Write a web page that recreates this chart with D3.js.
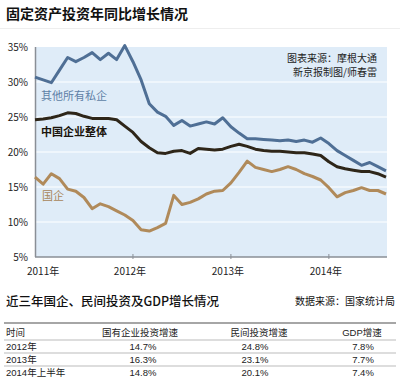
<!DOCTYPE html>
<html><head><meta charset="utf-8">
<script src="https://cdn.jsdelivr.net/npm/d3@7"></script>
<style>
html,body{margin:0;padding:0;background:#fff;}
svg{display:block;font-family:"Noto Sans CJK SC","Noto Sans",sans-serif;}
.tb{font-family:"Liberation Sans","Noto Sans CJK SC",sans-serif;}
</style></head>
<body><svg id="c" width="400" height="378"></svg>
<script>
// month index 0 = 2011-01
const yearTicks = [0, 12, 24, 36];
const yearLabels = ["2011年", "2012年", "2013年", "2014年"];
const yTicks = [5, 10, 15, 20, 25, 30, 35];

const privateVals = [30.7,30.3,29.9,31.7,33.5,32.9,33.5,34.2,33.2,34.1,33.2,35.2,
  32.9,30.3,26.9,25.7,25.1,23.8,24.5,23.7,24.0,24.3,24.0,24.9,
  23.6,22.7,21.9,21.9,21.8,21.7,21.6,21.7,21.5,21.7,21.4,22.0,
  21.2,20.2,19.5,18.8,18.1,18.5,17.9,17.3];
const overallVals = [24.6,24.7,24.9,25.2,25.6,25.5,25.1,24.8,24.8,24.8,24.6,23.7,
  22.8,21.5,20.6,19.9,19.8,20.1,20.2,19.8,20.5,20.4,20.3,20.4,
  20.8,21.1,20.8,20.4,20.2,20.1,20.1,20.0,19.9,19.9,19.7,19.5,
  18.6,17.9,17.6,17.4,17.2,17.2,16.9,16.4];
const soeVals = [16.4,15.4,16.9,16.2,14.7,14.4,13.5,11.9,12.6,12.2,11.6,11.0,
  10.2,8.9,8.7,9.2,9.8,13.8,12.5,12.8,13.3,14.0,14.4,14.5,
  15.6,17.1,18.7,17.8,17.5,17.2,17.5,17.9,17.5,16.9,16.5,16.0,
  14.9,13.6,14.2,14.5,14.9,14.5,14.5,14.0];

const seriesNames = ["其他所有私企", "中国企业整体", "国企"];

const tableHeader = ["时间", "国有企业投资增速", "民间投资增速", "GDP增速"];
const tableRows = ["2012年", "2013年", "2014年上半年"];
const soeGrowth = ["14.7%", "16.3%", "14.8%"];
const privateGrowth = ["24.8%", "23.1%", "20.1%"];
const gdpGrowth = ["7.8%", "7.7%", "7.4%"];

const svg = d3.select("#c");
const x = d3.scaleLinear().domain([0, 43]).range([35, 386]);
const y = d3.scaleLinear().domain([5, 35]).range([257, 47]);

// title
svg.append("text").attr("x", 6).attr("y", 19).attr("font-size", 14).attr("font-weight", 700)
  .attr("fill", "#111").text("固定资产投资年同比增长情况");
svg.append("line").attr("x1", 0).attr("x2", 400).attr("y1", 28.5).attr("y2", 28.5).attr("stroke", "#eee");

// background
svg.append("rect").attr("x", x(0)).attr("y", y(35)).attr("width", 387 - x(0)).attr("height", y(5) - y(35))
  .attr("fill", "#dfecf8");
// grid
svg.selectAll(".g").data(yTicks.filter(d => d > 5 && d < 35)).join("line")
  .attr("x1", x(0)).attr("x2", 387).attr("y1", d => y(d)).attr("y2", d => y(d))
  .attr("stroke", "#fff").attr("stroke-width", 1.2);
// axes
svg.append("line").attr("x1", x(0) + 0.5).attr("x2", x(0) + 0.5).attr("y1", y(35)).attr("y2", y(5))
  .attr("stroke", "#8a8f96").attr("stroke-width", 1.5);
svg.append("line").attr("x1", x(0)).attr("x2", 387).attr("y1", y(5)).attr("y2", y(5))
  .attr("stroke", "#8a8f96").attr("stroke-width", 1.5);
svg.selectAll(".xt").data(yearTicks.slice(1)).join("line")
  .attr("x1", d => x(d)).attr("x2", d => x(d)).attr("y1", y(5) - 3).attr("y2", y(5) + 2)
  .attr("stroke", "#8a8f96").attr("stroke-width", 1);
svg.selectAll(".yl").data(yTicks).join("text")
  .attr("x", 28).attr("y", d => y(d) + 4).attr("text-anchor", "end").attr("font-size", 10)
  .attr("fill", "#222").text(d => d + "%");
svg.selectAll(".xl").data(yearTicks).join("text")
  .attr("x", (d, i) => i === 0 ? 27 : x(d) - 3).attr("y", 275)
  .attr("text-anchor", (d, i) => i === 0 ? "start" : "middle").attr("font-size", 10)
  .attr("fill", "#222").text((d, i) => yearLabels[i]);

// lines
const line = d3.line().x((d, i) => x(i)).y(d => y(d)).curve(d3.curveLinear);
[[soeVals, "#b08a5a"], [overallVals, "#2e2619"], [privateVals, "#4f6f95"]].forEach(([v, c]) => {
  svg.append("path").attr("d", line(v)).attr("fill", "none").attr("stroke", c)
    .attr("stroke-width", 3).attr("stroke-linejoin", "round");
});

// series labels
svg.append("text").attr("x", 41).attr("y", 100).attr("font-size", 11).attr("fill", "#5d7fa6").text(seriesNames[0]);
svg.append("text").attr("x", 41).attr("y", 136).attr("font-size", 11).attr("font-weight", 700).attr("fill", "#1a140c").text(seriesNames[1]);
svg.append("text").attr("x", 42).attr("y", 200).attr("font-size", 11).attr("fill", "#a8865a").text(seriesNames[2]);

// source
svg.append("text").attr("x", 377).attr("y", 62).attr("text-anchor", "end").attr("font-size", 10).attr("fill", "#222").text("图表来源：摩根大通");
svg.append("text").attr("x", 377).attr("y", 76).attr("text-anchor", "end").attr("font-size", 10).attr("fill", "#222").text("新京报制图/师春雷");

// table section
svg.append("text").attr("x", 6).attr("y", 306).attr("font-size", 12.5).attr("font-weight", 500).attr("fill", "#111").text("近三年国企、民间投资及GDP增长情况");
svg.append("text").attr("x", 395).attr("y", 305).attr("text-anchor", "end").attr("font-size", 10).attr("fill", "#111").text("数据来源：国家统计局");

svg.append("line").attr("x1", 4).attr("x2", 396).attr("y1", 323).attr("y2", 323).attr("stroke", "#888").attr("stroke-width", 1.5);
const colX = [6, 140, 259, 362];
const rowY = [336, 349.5, 362.5, 375.5];
svg.selectAll(".th").data(tableHeader).join("text").attr("class", "tb")
  .attr("x", (d, i) => colX[i]).attr("y", rowY[0])
  .attr("text-anchor", (d, i) => i === 0 ? "start" : "middle")
  .attr("font-size", 9.5).attr("fill", "#222").text(d => d);
[340, 353, 366].forEach(yy => svg.append("line").attr("x1", 4).attr("x2", 396).attr("y1", yy).attr("y2", yy)
  .attr("stroke", "#aaa").attr("stroke-width", 0.8));
tableRows.forEach((r, i) => {
  const cells = [r, soeGrowth[i], privateGrowth[i], gdpGrowth[i]];
  cells.forEach((c, j) => {
    svg.append("text").attr("class", "tb")
      .attr("x", j === 0 ? colX[0] : colX[j] + (j === 1 ? 3 : j === 2 ? -4 : 1))
      .attr("y", rowY[i + 1]).attr("text-anchor", j === 0 ? "start" : "middle")
      .attr("font-size", 9.5).attr("fill", "#222").text(c);
  });
});
</script></body></html>
